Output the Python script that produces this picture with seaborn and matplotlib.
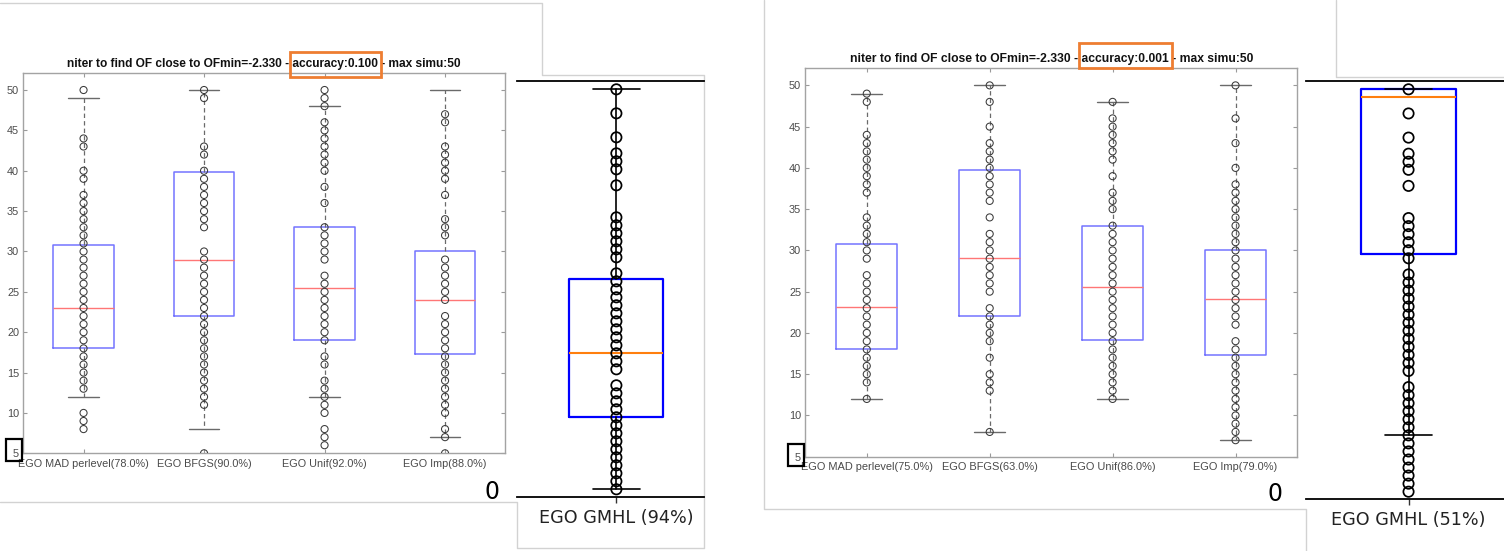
import matplotlib
matplotlib.use("Agg")
import matplotlib.pyplot as plt
from matplotlib.lines import Line2D
from matplotlib.patches import Rectangle
import pandas as pd
import seaborn as sns

sns.set_theme(style="white")
plt.rcParams["font.family"] = ["Liberation Sans", "DejaVu Sans"]

# ------------------------------------------------------------------ data
# accuracy 0.100 run
labels_acc0100 = ["EGO MAD perlevel(78.0%)", "EGO BFGS(90.0%)",
                  "EGO Unif(92.0%)", "EGO Imp(88.0%)"]
mad_acc0100 = [50, 44, 43, 40, 39, 37, 36, 35, 34, 33, 32, 31, 30, 29, 28, 27,
               26, 25, 24, 23, 22, 21, 20, 19, 18, 17, 16, 15, 14, 13, 10, 9, 8]
bfgs_acc0100 = [50, 49, 43, 42, 40, 39, 38, 37, 36, 35, 34, 33, 30, 29, 28, 27,
                26, 25, 24, 23, 22, 21, 20, 19, 18, 17, 16, 15, 14, 13, 12, 11, 5]
unif_acc0100 = [50, 49, 48, 46, 45, 44, 43, 42, 41, 40, 38, 36, 33, 32, 31, 30,
                29, 27, 26, 25, 24, 23, 22, 21, 20, 19, 17, 16, 14, 13, 12, 11,
                10, 8, 7, 6]
imp_acc0100 = [47, 46, 43, 42, 41, 40, 39, 37, 34, 33, 32, 29, 28, 27, 26, 25,
               24, 22, 21, 20, 19, 18, 17, 16, 15, 14, 13, 12, 11, 10, 8, 7, 5]
q1_acc0100 = [18.0, 22.0, 19.0, 17.3]
med_acc0100 = [23.0, 29.0, 25.5, 24.0]
q3_acc0100 = [30.8, 39.8, 33.0, 30.0]
lo_acc0100 = [12, 8, 12, 7]
hi_acc0100 = [49, 50, 48, 50]

# accuracy 0.001 run
labels_acc0001 = ["EGO MAD perlevel(75.0%)", "EGO BFGS(63.0%)",
                  "EGO Unif(86.0%)", "EGO Imp(79.0%)"]
mad_acc0001 = [49, 48, 44, 43, 42, 41, 40, 39, 38, 37, 34, 33, 32, 31, 30, 29,
               27, 26, 25, 24, 23, 22, 21, 20, 19, 18, 17, 16, 15, 14, 12]
bfgs_acc0001 = [50, 48, 45, 43, 42, 41, 40, 39, 38, 37, 36, 34, 32, 31, 30, 29,
                28, 27, 26, 25, 23, 22, 21, 20, 19, 17, 15, 14, 13, 8]
unif_acc0001 = [48, 46, 45, 44, 43, 42, 41, 39, 37, 36, 35, 33, 32, 31, 30, 29,
                28, 27, 26, 25, 24, 23, 22, 21, 20, 19, 18, 17, 16, 15, 14, 13, 12]
imp_acc0001 = [50, 46, 43, 40, 38, 37, 36, 35, 34, 33, 32, 31, 30, 29, 28, 27,
               26, 25, 24, 23, 22, 21, 19, 18, 17, 16, 15, 14, 13, 12, 11, 10,
               9, 8, 7]
q1_acc0001 = [18.1, 22.1, 19.1, 17.3]
med_acc0001 = [23.1, 29.1, 25.6, 24.1]
q3_acc0001 = [30.8, 39.8, 33.0, 30.1]
lo_acc0001 = [12, 8, 12, 7]
hi_acc0001 = [49, 50, 48, 50]

yticks_matlab = [5, 10, 15, 20, 25, 30, 35, 40, 45, 50]

# EGO GMHL iterations
gmhl_iters = [50, 47, 44, 42, 41, 40, 38, 34, 33, 32, 31, 30, 29, 27, 26, 25,
              24, 23, 22, 21, 20, 19, 18, 17, 16, 15, 13, 12, 11, 10, 9, 8, 7,
              6, 5, 4, 3, 2, 1, 0]
gmhl_label_acc0100 = "EGO GMHL (94%)"
gmhl_stats_acc0100 = dict(q1=9.0, med=17.0, q3=26.3, whislo=0, whishi=50)
gmhl_label_acc0001 = "EGO GMHL (51%)"
gmhl_stats_acc0001 = dict(q1=29.5, med=49.0, q3=50.0, whislo=7, whishi=50)

title_prefix = "niter to find OF close to OFmin=-2.330 - "
title_suffix = " - max simu:50"
acc_text_0100 = "accuracy:0.100"
acc_text_0001 = "accuracy:0.001"

# ------------------------------------------------------------------ layout
W, H = 1504, 551
fig = plt.figure(figsize=(W / 100, H / 100), dpi=100)
fig.patch.set_facecolor("white")


def frac(x0, y0, x1, y1):
    return [x0 / W, 1 - y1 / H, (x1 - x0) / W, (y1 - y0) / H]


def px_line(xs, ys, color="#d2d2d2", lw=1.0):
    fig.add_artist(Line2D([x / W for x in xs], [1 - y / H for y in ys],
                          transform=fig.transFigure, color=color, lw=lw,
                          zorder=0))


def px_rect(x0, y0, x1, y1, color, lw):
    fig.add_artist(Rectangle((x0 / W, 1 - y1 / H), (x1 - x0) / W,
                             (y1 - y0) / H, transform=fig.transFigure,
                             fill=False, edgecolor=color, lw=lw, zorder=10))


def matlab_panel(box, labels, samples, q1, med, q3, lo, hi, fs):
    ax = fig.add_axes(frac(*box))
    ax.set_facecolor("white")
    positions = [1, 2, 3, 4]
    stats = [dict(q1=a, med=b, q3=c, whislo=d, whishi=e)
             for a, b, c, d, e in zip(q1, med, q3, lo, hi)]
    ax.bxp(stats, positions=positions, widths=0.5, showfliers=False,
           boxprops=dict(color="#7474ff", lw=1.1),
           medianprops=dict(color="#ff7676", lw=1.0),
           whiskerprops=dict(color="#6a6a6a", lw=0.9, linestyle=(0, (3.5, 2.5))),
           capprops=dict(color="#6a6a6a", lw=1.0))
    df = pd.DataFrame({
        "pos": [p for p, s in zip(positions, samples) for _ in s],
        "niter": [v for s in samples for v in s],
    })
    sns.scatterplot(data=df, x="pos", y="niter", ax=ax, marker="o", s=26,
                    color="#333333", linewidth=0.75, legend=False, zorder=4)
    coll = ax.collections[-1]
    coll.set_facecolor("none")
    coll.set_edgecolor("#3a3a3a")
    ax.set_xlim(0.5, 4.5)
    ax.set_ylim(5, 52.07)
    ax.set_yticks(yticks_matlab)
    ax.set_yticklabels([str(t) for t in yticks_matlab])
    ax.set_xticks(positions)
    ax.set_xticklabels(labels)
    ax.set_xlabel("")
    ax.set_ylabel("")
    ax.tick_params(axis="both", which="both", direction="in", length=3.2,
                   width=0.8, color="#9a9a9a", top=True, right=True,
                   labelsize=fs, labelcolor="#4a4a4a", left=True, bottom=True)
    ax.tick_params(axis="x", pad=4)
    ax.tick_params(axis="y", pad=3)
    for sp in ax.spines.values():
        sp.set_color("#a3a3a3")
        sp.set_linewidth(1.0)
    for t in ax.get_xticklabels() + ax.get_yticklabels():
        t.set_family("Liberation Sans")
    return ax


def gmhl_panel(box, ylim, xlim, stats, label, zero_pad):
    ax = fig.add_axes(frac(*box))
    ax.set_facecolor("none")
    ax.bxp([stats], positions=[0], widths=0.5, showfliers=False,
           boxprops=dict(color="#0000ff", lw=1.6),
           medianprops=dict(color="#ff7f0e", lw=1.5),
           whiskerprops=dict(color="black", lw=1.2),
           capprops=dict(color="black", lw=1.2, zorder=3))
    df = pd.DataFrame({"pos": [0] * len(gmhl_iters), "niter": gmhl_iters})
    sns.scatterplot(data=df, x="pos", y="niter", ax=ax, marker="o", s=55,
                    color="black", linewidth=1.25, legend=False, zorder=4)
    coll = ax.collections[-1]
    coll.set_facecolor("none")
    coll.set_edgecolor("black")
    ax.set_xlim(*xlim)
    ax.set_ylim(*ylim)
    ax.set_xlabel("")
    ax.set_ylabel("")
    for side in ("left", "right"):
        ax.spines[side].set_visible(False)
    for side in ("top", "bottom"):
        ax.spines[side].set_color("black")
        ax.spines[side].set_linewidth(1.3)
    ax.set_xticks([0])
    ax.set_xticklabels([label], fontsize=12.7, family="DejaVu Sans",
                       color="#222222")
    ax.tick_params(axis="x", length=4.5, width=1.0, color="#333333", pad=4,
                   bottom=True)
    ax.set_yticks([0])
    ax.set_yticklabels(["0"], fontsize=17, family="DejaVu Sans",
                       color="black")
    ax.tick_params(axis="y", length=0, pad=zero_pad, left=True)
    ax.grid(False)
    return ax


# screenshot frames
px_line([0, 542.3, 542.3, 704, 704, 517, 517, 0],
        [3.3, 3.3, 75, 75, 548, 548, 501.7, 501.7])
px_line([764.3, 764.3, 1306, 1306], [0, 509.3, 509.3, 551])
px_line([1335.7, 1335.7, 1504], [0, 77.3, 77.3])

samples_0100 = [mad_acc0100, bfgs_acc0100, unif_acc0100, imp_acc0100]
samples_0001 = [mad_acc0001, bfgs_acc0001, unif_acc0001, imp_acc0001]

ax_l = matlab_panel((23.3, 73.3, 505.3, 453.3), labels_acc0100, samples_0100,
                    q1_acc0100, med_acc0100, q3_acc0100, lo_acc0100,
                    hi_acc0100, 7.8)
ax_r = matlab_panel((805.3, 68.3, 1297.0, 456.7), labels_acc0001, samples_0001,
                    q1_acc0001, med_acc0001, q3_acc0001, lo_acc0001,
                    hi_acc0001, 7.95)

gmhl_panel((517.3, 80.7, 704.0, 497.3), (-1.0, 51.08), (-0.527, 0.466),
           gmhl_stats_acc0100, gmhl_label_acc0100, 12.5)
gmhl_panel((1306.0, 80.7, 1504.0, 498.7), (-0.87, 51.07), (-0.5435, 0.506),
           gmhl_stats_acc0001, gmhl_label_acc0001, 17)

# titles with the accuracy part boxed
titles = []
for cx, cy, acc, fs, dy_top, dy_bot in (
        (264.3, 64.0, acc_text_0100, 8.55, 12.3, 12.7),
        (1051.8, 59.3, acc_text_0001, 8.75, 16.6, 9.0)):
    full = title_prefix + acc + title_suffix
    t = fig.text(cx / W, 1 - cy / H, full, ha="center", va="center",
                 fontsize=fs, fontweight="bold", family="Liberation Sans",
                 color="#111111")
    titles.append((t, full, acc, cy, dy_top, dy_bot))

fig.canvas.draw()
renderer = fig.canvas.get_renderer()
for t, full, acc, cy, dy_top, dy_bot in titles:
    bb = t.get_window_extent(renderer)
    tmp = fig.text(0, 0, title_prefix + acc, fontproperties=t.get_fontproperties())
    w_upto = tmp.get_window_extent(renderer).width
    tmp.set_text(acc)
    w_acc = tmp.get_window_extent(renderer).width
    tmp.remove()
    x1 = bb.x0 + w_upto
    x0 = x1 - w_acc
    px_rect(x0 - 3, cy - dy_top, x1 + 3, cy + dy_bot, "#ee7d31", 2.0)

# boxes around the lowest y tick label
px_rect(5.7, 438.7, 22.0, 461.0, "black", 1.6)
px_rect(788.3, 444.0, 804.3, 466.0, "black", 1.6)

fig.savefig("out.png", dpi=100)
